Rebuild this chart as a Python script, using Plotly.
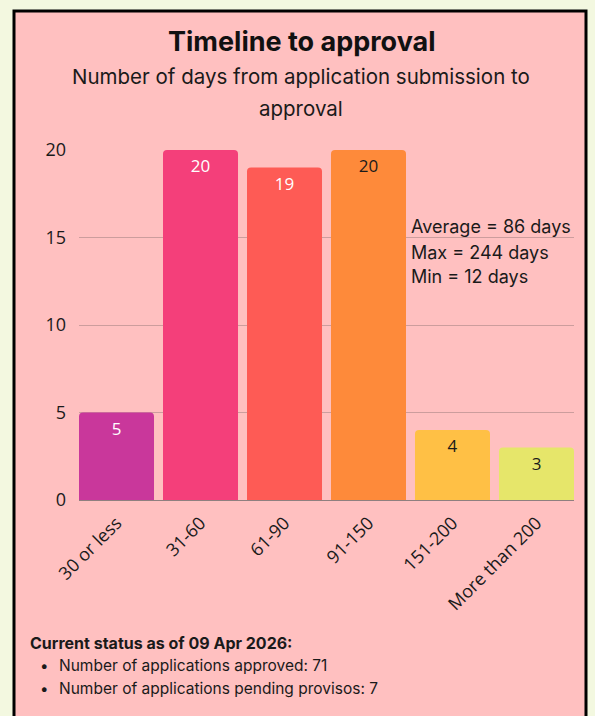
import plotly.graph_objects as go

# data
categories = ["30 or less", "31-60", "61-90", "91-150", "151-200", "More than 200"]
counts = [5, 20, 19, 20, 4, 3]
y_ticks = [0, 5, 10, 15, 20]

avg_days = 86
max_days = 244
min_days = 12

status_date = "09 Apr 2026"
n_approved = 71
n_pending = 7

# styling
bar_colors = ["#c9379b", "#f43f7a", "#fe5b55", "#fe8a3a", "#ffc045", "#e6e66a"]
label_colors = ["white", "white", "white", "#1a1a1a", "#1a1a1a", "#1a1a1a"]
outer_bg = "#f3f8e0"
panel_bg = "#ffc0c0"
W, H = 595, 716


def px(x):
    return x / W


def py(y):
    return 1 - y / H


fig = go.Figure()
fig.add_trace(go.Bar(
    x=categories,
    y=counts,
    text=[str(c) for c in counts],
    textposition="inside",
    insidetextanchor="end",
    textfont=dict(color=label_colors, size=17, family="Open Sans, sans-serif"),
    marker=dict(color=bar_colors, cornerradius=4, line=dict(width=0)),
    hoverinfo="x+y",
))

fig.update_layout(
    width=W,
    height=H,
    margin=dict(l=0, r=0, t=0, b=0),
    paper_bgcolor=outer_bg,
    plot_bgcolor=panel_bg,
    showlegend=False,
    bargap=0.107,
    font=dict(family="Inter, sans-serif", color="#1a1a1a"),
    xaxis=dict(
        domain=[px(79), px(574)],
        range=[-0.4465, 5.4465],
        tickangle=-45,
        tickfont=dict(size=18, family="Open Sans, sans-serif", color="#1a1a1a"),
        showgrid=False,
        showline=False,
        ticks="",
        ticklabelstandoff=8,
        automargin=False,
    ),
    yaxis=dict(
        domain=[py(500), py(150)],
        range=[0, 20],
        tickvals=y_ticks,
        tickfont=dict(size=18, family="Open Sans, sans-serif", color="#1a1a1a"),
        gridcolor="#cc9d9d",
        gridwidth=1,
        zeroline=True,
        zerolinecolor="#8f7f7f",
        zerolinewidth=1,
        ticklabelstandoff=12,
        automargin=False,
    ),
    shapes=[dict(
        type="rect", xref="paper", yref="paper",
        x0=px(14), x1=px(586), y0=-0.05, y1=py(11),
        line=dict(color="black", width=3),
        fillcolor=panel_bg, layer="below",
    )],
)

annotations = [
    dict(text="<b>Timeline to approval</b>", x=px(302), y=py(42),
         font=dict(size=27, family="Inter, sans-serif", color="#111", weight=800)),
    dict(text="Number of days from application submission to", x=px(301), y=py(77),
         font=dict(size=20.5)),
    dict(text="approval", x=px(301), y=py(108), font=dict(size=20.5)),
    dict(text=f"Average = {avg_days} days", x=px(409), y=py(227), xanchor="left",
         font=dict(size=18)),
    dict(text=f"Max = {max_days} days", x=px(409), y=py(252), xanchor="left",
         font=dict(size=18)),
    dict(text=f"Min = {min_days} days", x=px(409), y=py(276), xanchor="left",
         font=dict(size=18)),
    dict(text=f"<b>Current status as of {status_date}:</b>", x=px(28), y=py(643),
         xanchor="left", font=dict(size=16)),
    dict(text="•", x=px(38), y=py(665), xanchor="left", font=dict(size=15)),
    dict(text=f"Number of applications approved: {n_approved}", x=px(57), y=py(665),
         xanchor="left", font=dict(size=15.5)),
    dict(text="•", x=px(38), y=py(688), xanchor="left", font=dict(size=15)),
    dict(text=f"Number of applications pending provisos: {n_pending}", x=px(57), y=py(688),
         xanchor="left", font=dict(size=15.5)),
]
for a in annotations:
    a.setdefault("xanchor", "center")
    fig.add_annotation(xref="paper", yref="paper", yanchor="middle", showarrow=False, **a)

fig.write_html(
    "out.html",
    config={"displayModeBar": False},
    post_script="document.body.style.margin='0';document.body.style.overflow='hidden';",
)
